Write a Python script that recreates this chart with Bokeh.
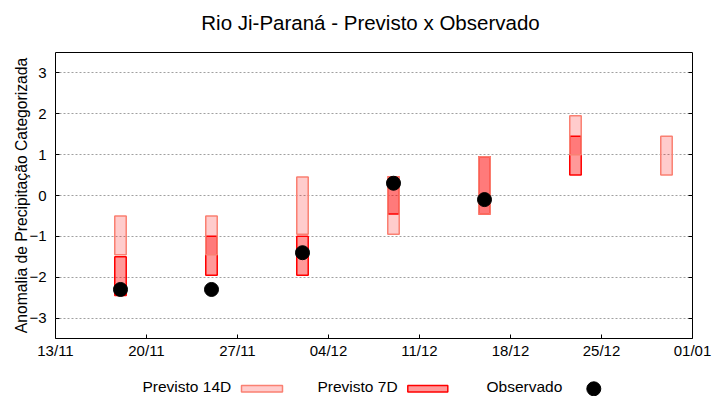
import pandas as pd
from bokeh.plotting import figure
from bokeh.models import (ColumnDataSource, FixedTicker, DatetimeTickFormatter, LinearAxis,
                          Range1d, CustomJSTickFormatter)
from bokeh.layouts import column
from bokeh.embed import file_html
from bokeh.resources import INLINE
from bokeh.core.properties import value

# ---------------- data ----------------
title_text = "Rio Ji-Paraná - Previsto x Observado"
y_label = "Anomalia de Precipitação Categorizada"
dates = ["2023-11-18", "2023-11-25", "2023-12-02", "2023-12-09",
         "2023-12-16", "2023-12-23", "2023-12-30"]
p14_bottom = [-1.45, -1.45, -0.95, -0.95, -0.45, 1.0, 0.5]
p14_top = [-0.5, -0.5, 0.45, 0.45, 0.95, 1.95, 1.45]
p7_bottom = [-2.45, -1.95, -1.95, -0.45, -0.45, 0.5, None]
p7_top = [-1.5, -1.0, -1.0, 0.45, 0.95, 1.45, None]
observed = [-2.3, -2.3, -1.4, 0.3, -0.1, None, None]
tick_dates = ["2023-11-13", "2023-11-20", "2023-11-27", "2023-12-04",
              "2023-12-11", "2023-12-18", "2023-12-25", "2024-01-01"]
y_ticks = [-3, -2, -1, 0, 1, 2, 3]
legend_labels = ["Previsto 14D", "Previsto 7D", "Observado"]

FONT = "Liberation Sans"
C14_FILL, C14_LINE = "#ff0000", "#fa8072"
C7_FILL, C7_LINE = "#ff0000", "#ff0000"

# layout (pixels)
W = 712
FL, FR = 55, 692          # frame left / right
TITLE_H = 51
MAIN_H = 310
LEG_H = 35

dt = pd.to_datetime(dates)
tick_ms = [pd.Timestamp(t).value / 1e6 for t in tick_dates]
day_ms = 86400000.0
bar_w = 0.88 * day_ms


def keep(xs, *cols):
    out = {"x": [], "c": [[] for _ in cols]}
    for i, x in enumerate(xs):
        if all(c[i] is not None for c in cols):
            out["x"].append(x)
            for j, c in enumerate(cols):
                out["c"][j].append(c[i])
    return out


k14 = keep(dt, p14_bottom, p14_top)
k7 = keep(dt, p7_bottom, p7_top)
kob = keep(dt, observed)
src14 = ColumnDataSource(dict(x=k14["x"], bottom=k14["c"][0], top=k14["c"][1]))
src7 = ColumnDataSource(dict(x=k7["x"], bottom=k7["c"][0], top=k7["c"][1]))
srcob = ColumnDataSource(dict(x=kob["x"], y=kob["c"][0]))


def blank(fig):
    fig.axis.visible = False
    fig.grid.visible = False
    fig.outline_line_color = None
    fig.background_fill_color = "white"
    fig.border_fill_color = "white"


# ---------------- title strip ----------------
tf = figure(width=W, height=TITLE_H, x_range=Range1d(FL, FR), y_range=Range1d(TITLE_H, 0),
            output_backend="svg", toolbar_location=None, min_border=0,
            min_border_left=FL, min_border_right=W - FR)
blank(tf)
tf.text(x=[370], y=[21.5], text=[title_text], text_font=value(FONT),
        text_font_size="20.5px", text_align="center", text_baseline="middle",
        text_color="black")

# ---------------- main figure ----------------
p = figure(x_axis_type="datetime", width=W, height=MAIN_H,
           x_range=Range1d(pd.Timestamp(tick_dates[0]), pd.Timestamp(tick_dates[-1])),
           y_range=Range1d(-3.5, 3.5),
           output_backend="svg", toolbar_location=None,
           min_border_left=FL, min_border_right=W - FR, min_border_top=1, min_border_bottom=22)
p.background_fill_color = "white"
p.border_fill_color = "white"
p.outline_line_color = "black"
p.outline_line_width = 1
p.outline_line_alpha = 1

p.vbar(x="x", bottom="bottom", top="top", width=bar_w, source=src7,
       fill_color=C7_FILL, fill_alpha=0.4, line_color=C7_LINE, line_width=1.5)
p.vbar(x="x", bottom="bottom", top="top", width=bar_w, source=src14,
       fill_color=C14_FILL, fill_alpha=0.2, line_color=C14_LINE, line_width=1.5)
p.scatter(x="x", y="y", source=srcob, size=14, fill_color="black", line_color="black")

p.xgrid.visible = False
p.ygrid.ticker = FixedTicker(ticks=y_ticks)
p.ygrid.grid_line_color = "#a0a0a0"
p.ygrid.grid_line_dash = "2 2"
p.ygrid.grid_line_width = 1

xa = p.xaxis[0]
xa.ticker = FixedTicker(ticks=tick_ms)
fmt = "%d/%m"
xa.formatter = DatetimeTickFormatter(days=fmt, months=fmt, hours=fmt, years=fmt,
                                     hourmin=fmt, minutes=fmt, minsec=fmt, seconds=fmt,
                                     milliseconds=fmt, microseconds=fmt)
ya = p.yaxis[0]
ya.ticker = FixedTicker(ticks=y_ticks)
ya.axis_label = y_label
for ax in (xa, ya):
    ax.axis_line_color = None
    ax.major_tick_in = 4
    ax.major_tick_out = 0
    ax.major_tick_line_color = "black"
    ax.minor_tick_line_color = None
    ax.major_label_text_font = FONT
    ax.major_label_text_font_size = "15px"
    ax.major_label_text_color = "black"
xa.major_label_standoff = 3
ya.major_label_standoff = 9
ya.axis_label_standoff = -4
ya.axis_label_text_font = FONT
ya.axis_label_text_font_size = "15.7px"
ya.axis_label_text_font_style = "normal"
ya.axis_label_text_color = "black"

ra = LinearAxis(ticker=FixedTicker(ticks=y_ticks),
                formatter=CustomJSTickFormatter(code="return ''"))
ra.axis_line_color = None
ra.major_tick_in = 4
ra.major_tick_out = 0
ra.major_tick_line_color = "black"
ra.minor_tick_line_color = None
p.add_layout(ra, "right")

# ---------------- legend strip ----------------
y0 = TITLE_H + MAIN_H
lg = figure(width=W, height=LEG_H, x_range=Range1d(FL, FR), y_range=Range1d(y0 + LEG_H, y0),
            output_backend="svg", toolbar_location=None, min_border=0,
            min_border_left=FL, min_border_right=W - FR)
blank(lg)
lg.text(x=[142, 317, 486], y=[386, 386, 386], text=legend_labels,
        text_font=value(FONT), text_font_size="15.5px", text_baseline="middle",
        text_align="left", text_color="black")
lg.rect(x=[261.5], y=[388.3], width=41, height=6.5, fill_color=C14_FILL, fill_alpha=0.2,
        line_color=C14_LINE, line_width=1.5)
lg.rect(x=[427.3], y=[388.3], width=40, height=6.5, fill_color=C7_FILL, fill_alpha=0.4,
        line_color=C7_LINE, line_width=1.5)
lg.scatter(x=[593.3], y=[388.3], size=14, fill_color="black", line_color="black")

layout = column(tf, p, lg, spacing=0)
open("out.html", "w").write(file_html(layout, INLINE))
